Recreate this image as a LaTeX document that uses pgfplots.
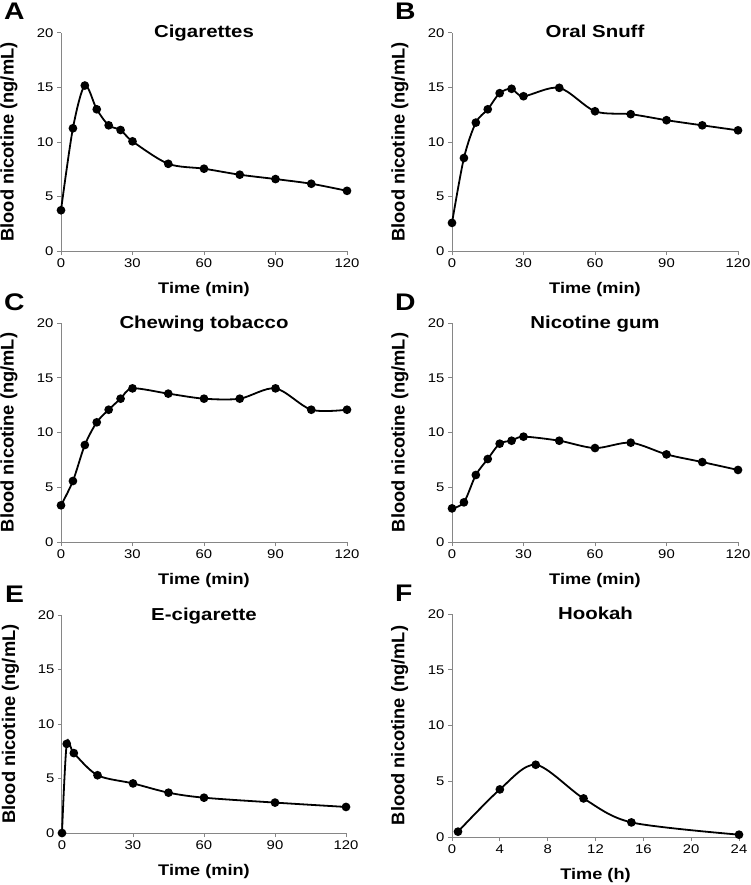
\documentclass[border=0pt]{standalone}
\usepackage{fontspec}
\setmainfont{Liberation Sans}[FakeStretch=1.18]
\newfontfamily\vfont{Liberation Sans}
\usepackage{pgfplots}
\pgfplotsset{compat=1.18}
\newcommand\ticksize{\fontsize{12.6pt}{14pt}\selectfont}
\newcommand\labsize{\fontsize{15.4pt}{17pt}\selectfont\bfseries}
\newcommand\ylabsize{\vfont\fontsize{18.3pt}{20pt}\selectfont\bfseries}
\newcommand\titsize{\fontsize{17.3pt}{19pt}\selectfont\bfseries}
\newcommand\letsize{\fontsize{24pt}{26pt}\selectfont\bfseries}
\definecolor{axgray}{RGB}{134,134,134}
\pgfplotsset{
  panel/.style={
    scale only axis, width=286pt, height=218pt,
    anchor=south west,
    xmin=0, xmax=120, ymin=0, ymax=20,
    xtick={0,30,...,120}, ytick={0,5,...,20},
    axis x line*=bottom, axis y line*=left,
    axis line style={draw=axgray, line width=1pt, -},
    major tick style={draw=axgray, line width=1pt},
    tick align=outside, major tick length=4pt,
    minor tick num=0,
    tick label style={font=\ticksize, text=black},
    /pgf/number format/assume math mode=true,
    clip=false,
    xlabel={Time (min)},
    ylabel={Blood nicotine (ng/mL)},
    xlabel style={at={(axis description cs:0.5,0)}, anchor=base, yshift=-42pt, font=\labsize},
    ylabel style={at={(axis description cs:-0.182,0.5)}, anchor=center, font=\ylabsize},
    title style={at={(axis description cs:0.5,1)}, anchor=base, yshift=-11pt, font=\titsize},
  },
  dat/.style={black, line width=1.8pt, smooth, mark=*, mark size=3.4pt, mark options={solid, fill=black}},
}
\newcommand\panelletter[1]{\node[anchor=base west, font=\letsize, inner sep=0pt] at (rel axis cs:0,1) [xshift=-57pt, yshift=13pt] {#1};}
\begin{document}
\begin{tikzpicture}
\useasboundingbox (0,0) rectangle (750pt,-885pt);
% A
\begin{axis}[panel, at={(61pt,-251pt)}, title={Cigarettes}]
\addplot[dat] coordinates {(0,3.74) (5,11.26) (10,15.18) (15,13.0) (20,11.53) (25,11.1) (30,10.06) (45,8.0) (60,7.55) (75,7.0) (90,6.6) (105,6.17) (120,5.52)};
\panelletter{A}
\end{axis}
% B
\begin{axis}[panel, at={(452pt,-251pt)}, title={Oral Snuff}]
\addplot[dat] coordinates {(0,2.58) (5,8.53) (10,11.78) (15,13.0) (20,14.48) (25,14.88) (30,14.2) (45,14.97) (60,12.82) (75,12.55) (90,12.0) (105,11.53) (120,11.07)};
\panelletter{B}
\end{axis}
% C
\begin{axis}[panel, at={(61pt,-542pt)}, height=219pt, title={Chewing tobacco}]
\addplot[dat] coordinates {(0,3.35) (5,5.57) (10,8.86) (15,10.93) (20,12.08) (25,13.09) (30,14.03) (45,13.55) (60,13.09) (75,13.09) (90,14.03) (105,12.08) (120,12.08)};
\panelletter{C}
\end{axis}
% D
\begin{axis}[panel, at={(452pt,-542pt)}, height=219pt, title={Nicotine gum}]
\addplot[dat] coordinates {(0,3.07) (5,3.62) (10,6.12) (15,7.58) (20,8.98) (25,9.25) (30,9.62) (45,9.25) (60,8.58) (75,9.07) (90,8.0) (105,7.3) (120,6.58)};
\panelletter{D}
\end{axis}
% E
\begin{axis}[panel, at={(62pt,-833pt)}, width=284pt, height=218pt, title={E-cigarette}]
\addplot[dat] coordinates {(0,0) (2,8.18) (5,7.33) (15,5.3) (30,4.55) (45,3.7) (60,3.24) (90,2.79) (120,2.39)};
\panelletter{E}
\end{axis}
% F
\begin{axis}[panel, at={(452pt,-837pt)}, width=287pt, height=223pt, xmax=24, xtick={0,4,...,24}, xlabel={Time (h)}, title={Hookah}]
\addplot[dat] coordinates {(0.5,0.48) (4,4.27) (7,6.48) (11,3.46) (15,1.31) (24,0.21)};
\panelletter{F}
\end{axis}
\end{tikzpicture}
\end{document}
